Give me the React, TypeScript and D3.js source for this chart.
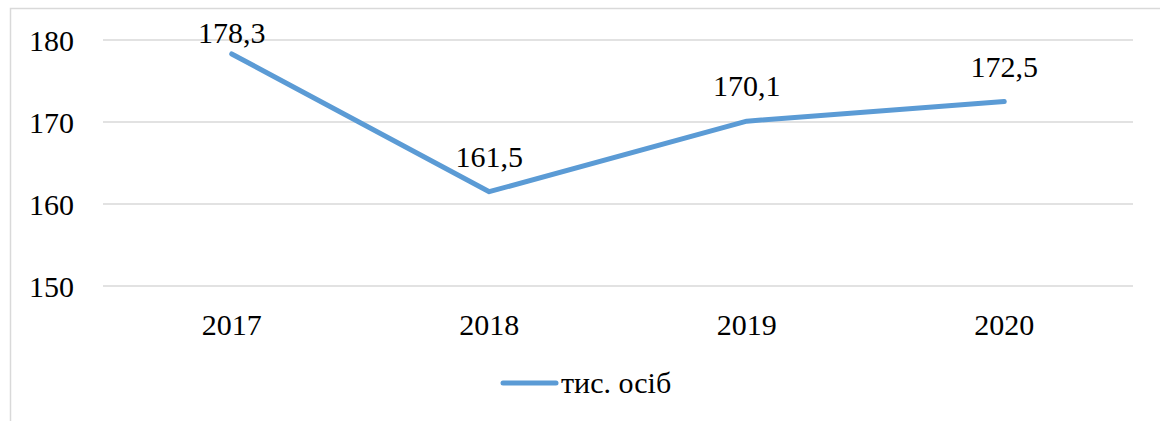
import React, { useEffect, useRef } from "react";
import * as d3 from "d3";

const years = ["2017", "2018", "2019", "2020"];
const values = [178.3, 161.5, 170.1, 172.5];
const labels = ["178,3", "161,5", "170,1", "172,5"];
const yTicks = [150, 160, 170, 180];
const seriesName = "тис. осіб";

const App = () => {
  const svgRef = useRef<SVGSVGElement>(null);

  useEffect(() => {
    const width = 1160,
      height = 421;
    const blue = "#5b9bd5";

    const svg = d3.select(svgRef.current);
    svg.selectAll("*").remove();
    svg.attr("width", width).attr("height", height);

    // chart frame (runs off the right/bottom edge)
    svg
      .append("rect")
      .attr("x", 10.5)
      .attr("y", 8.5)
      .attr("width", 1200)
      .attr("height", 500)
      .attr("fill", "white")
      .attr("stroke", "#d9d9d9")
      .attr("stroke-width", 1.5);

    const xScale = d3.scaleBand().domain(years).range([103, 1133]);
    const yScale = d3.scaleLinear().domain([150, 180]).range([286, 40]);
    const cx = (d: string) => (xScale(d) as number) + xScale.bandwidth() / 2;

    // gridlines
    svg
      .append("g")
      .selectAll("line")
      .data(yTicks)
      .enter()
      .append("line")
      .attr("x1", 103)
      .attr("x2", 1133)
      .attr("y1", (d) => yScale(d))
      .attr("y2", (d) => yScale(d))
      .attr("stroke", "#d9d9d9")
      .attr("stroke-width", 1.5);

    // y labels
    svg
      .append("g")
      .selectAll("text")
      .data(yTicks)
      .enter()
      .append("text")
      .attr("class", "t")
      .attr("x", 74)
      .attr("y", (d) => yScale(d) + 11)
      .attr("text-anchor", "end")
      .text((d) => d);

    // x labels
    svg
      .append("g")
      .selectAll("text")
      .data(years)
      .enter()
      .append("text")
      .attr("class", "t")
      .attr("x", (d) => cx(d))
      .attr("y", 335)
      .attr("text-anchor", "middle")
      .text((d) => d);

    const line = d3
      .line<number>()
      .x((d, i) => cx(years[i]))
      .y((d) => yScale(d));

    svg
      .append("path")
      .datum(values)
      .attr("d", line)
      .attr("fill", "none")
      .attr("stroke", blue)
      .attr("stroke-width", 5)
      .attr("stroke-linecap", "round")
      .attr("stroke-linejoin", "round");

    // data labels (above the point, kept inside the plot)
    svg
      .append("g")
      .selectAll("text")
      .data(values)
      .enter()
      .append("text")
      .attr("class", "t")
      .attr("x", (d, i) => cx(years[i]))
      .attr("y", (d) => Math.max(yScale(d) - 25, 43))
      .attr("text-anchor", "middle")
      .text((d, i) => labels[i]);

    // legend
    const lg = svg.append("g");
    lg.append("line")
      .attr("x1", 503)
      .attr("x2", 556)
      .attr("y1", 383)
      .attr("y2", 383)
      .attr("stroke", blue)
      .attr("stroke-width", 5)
      .attr("stroke-linecap", "round");
    lg.append("text")
      .attr("class", "t")
      .attr("x", 561)
      .attr("y", 393)
      .text(seriesName);
  }, []);

  return (
    <>
      <style>{`.t { font-family: "Liberation Serif", "Times New Roman", serif; font-size: 30px; fill: #000; }`}</style>
      <svg
        ref={svgRef}
        style={{ position: "absolute", left: 0, top: 0, display: "block" }}
      ></svg>
    </>
  );
};

export default App;
